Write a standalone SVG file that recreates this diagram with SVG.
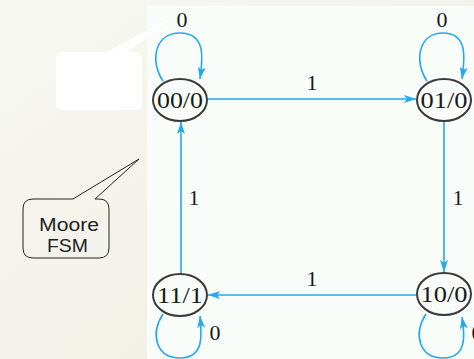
<svg xmlns="http://www.w3.org/2000/svg" width="474" height="359" viewBox="0 0 474 359">
  <defs>
    <linearGradient id="bg" x1="0" y1="0" x2="1" y2="1">
      <stop offset="0" stop-color="#f8f8f3"/>
      <stop offset="1" stop-color="#ededE1"/>
    </linearGradient>
    <marker id="arrow" viewBox="0 0 12 8" markerWidth="12" markerHeight="8" refX="12" refY="4" orient="auto" markerUnits="userSpaceOnUse">
      <path d="M0,0 L12,4 L0,8 L3,4 Z" fill="#22a9ee"/>
    </marker>
    <style>
      .edge { fill: none; stroke: #22a9ee; stroke-width: 1.6; marker-end: url(#arrow); }
      .state { fill: none; stroke: #3a3a3a; stroke-width: 2; }
      .stext { font-family: "Liberation Serif", "DejaVu Serif", serif; font-size: 24px; fill: #1a1a1a; text-anchor: middle; }
      .lbl { font-family: "Liberation Serif", "DejaVu Serif", serif; font-size: 22px; fill: #1a1a1a; text-anchor: middle; }
      .note { font-family: "Liberation Sans", Arial, sans-serif; font-size: 18px; fill: #222; }
    </style>
  </defs>

  <!-- backdrop and drawing panel -->
  <rect x="0" y="0" width="474" height="359" fill="url(#bg)"/>
  <rect x="147" y="6" width="327" height="353" fill="#f8fdf9"/>

  <!-- blank white callout -->
  <path d="M64,52 H107 L171,18 L128,52 H134 Q142,52 142,60 V102 Q142,110 134,110 H64 Q56,110 56,102 V60 Q56,52 64,52 Z" fill="#ffffff"/>

  <!-- Moore FSM callout -->
  <g id="callout">
    <path d="M73,199 H33 Q23,199 23,209 V248 Q23,258 33,258 H99 Q109,258 109,248 V209 Q109,199 99,199 H95 L139,159 Z" fill="none" stroke="#222" stroke-width="1"/>
    <text class="note" x="39" y="231" textLength="60" lengthAdjust="spacingAndGlyphs">Moore</text>
    <text class="note" x="47" y="252" textLength="41" lengthAdjust="spacingAndGlyphs">FSM</text>
  </g>

  <!-- transitions -->
  <g id="connectors">
    <path class="edge" d="M208,99 H416"/>
    <path class="edge" d="M444,122 V272"/>
    <path class="edge" d="M416,295 H208"/>
    <path class="edge" d="M181,273 V122"/>
    <path class="edge" d="M163,81 C150,62 154,33 180,33 C206,33 203,58 200,79"/>
    <path class="edge" d="M427,81 C414,62 418,33 443,33 C468,33 465,58 462,79"/>
    <path class="edge" d="M163,314 C150,334 156,358 180,358 C204,358 202,336 200,316"/>
    <path class="edge" d="M426,314 C413,334 419,358 443,358 C467,358 465,336 462,317"/>
    <text class="lbl" x="182" y="27">0</text>
    <text class="lbl" x="442" y="27">0</text>
    <text class="lbl" x="312" y="90">1</text>
    <text class="lbl" x="194" y="205">1</text>
    <text class="lbl" x="458" y="205">1</text>
    <text class="lbl" x="312" y="286">1</text>
    <text class="lbl" x="215" y="340">0</text>
    <text class="lbl" x="477" y="340">0</text>
  </g>

  <!-- states -->
  <g id="s00">
    <ellipse class="state" cx="180" cy="100" rx="27" ry="21"/>
    <text class="stext" x="180" y="108" textLength="46" lengthAdjust="spacingAndGlyphs">00/0</text>
  </g>
  <g id="s01">
    <ellipse class="state" cx="444" cy="100" rx="27" ry="21"/>
    <text class="stext" x="444" y="108" textLength="47" lengthAdjust="spacingAndGlyphs">01/0</text>
  </g>
  <g id="s10">
    <ellipse class="state" cx="444" cy="294" rx="27" ry="21"/>
    <text class="stext" x="444" y="302" textLength="47" lengthAdjust="spacingAndGlyphs">10/0</text>
  </g>
  <g id="s11">
    <ellipse class="state" cx="180" cy="295" rx="27" ry="21"/>
    <text class="stext" x="180" y="303" textLength="46" lengthAdjust="spacingAndGlyphs">11/1</text>
  </g>
</svg>
